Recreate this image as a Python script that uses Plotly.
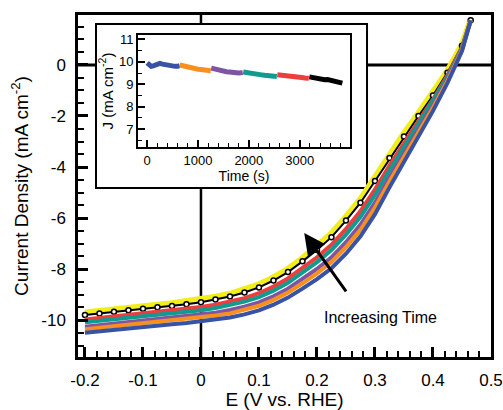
import plotly.graph_objects as go

# LSV sweeps (E in V vs RHE, J in mA cm-2)
E = [-0.2, -0.175, -0.15, -0.125, -0.1, -0.075, -0.05, -0.025, 0, 0.025, 0.05, 0.075,
     0.1, 0.125, 0.15, 0.175, 0.2, 0.225, 0.25, 0.275, 0.3, 0.325, 0.35, 0.375, 0.4,
     0.425, 0.45, 0.465]
J_yellow = [-9.7, -9.63, -9.59, -9.52, -9.45, -9.4, -9.34, -9.27, -9.18, -9.09, -8.97, -8.8,
            -8.6, -8.33, -7.99, -7.57, -7.1, -6.6, -5.95, -5.25, -4.4, -3.5, -2.67, -1.88,
            -1.1, -0.22, 0.8, 1.78]
J_black = [-9.8, -9.74, -9.68, -9.62, -9.56, -9.5, -9.45, -9.38, -9.3, -9.2, -9.08, -8.92,
           -8.72, -8.45, -8.12, -7.7, -7.25, -6.75, -6.1, -5.4, -4.55, -3.65, -2.8, -2.0,
           -1.2, -0.3, 0.75, 1.75]
J_red = [-9.98, -9.92, -9.85, -9.8, -9.73, -9.68, -9.63, -9.57, -9.49, -9.4, -9.28, -9.14,
         -8.95, -8.69, -8.37, -7.97, -7.54, -7.05, -6.43, -5.73, -4.88, -3.94, -3.05, -2.2,
         -1.35, -0.4, 0.7, 1.75]
J_teal = [-10.09, -10.03, -9.97, -9.91, -9.85, -9.8, -9.75, -9.69, -9.62, -9.53, -9.42, -9.28,
          -9.1, -8.85, -8.54, -8.15, -7.73, -7.26, -6.65, -5.95, -5.1, -4.13, -3.22, -2.34,
          -1.45, -0.47, 0.67, 1.75]
J_purple = [-10.26, -10.2, -10.14, -10.08, -10.02, -9.97, -9.92, -9.86, -9.79, -9.71, -9.61,
            -9.48, -9.31, -9.07, -8.77, -8.4, -8.0, -7.54, -6.95, -6.26, -5.4, -4.4, -3.45,
            -2.52, -1.59, -0.56, 0.62, 1.75]
J_orange = [-10.36, -10.3, -10.24, -10.18, -10.12, -10.08, -10.03, -9.97, -9.9, -9.82, -9.74,
            -9.61, -9.44, -9.21, -8.92, -8.56, -8.17, -7.73, -7.14, -6.46, -5.59, -4.57, -3.6,
            -2.64, -1.68, -0.62, 0.59, 1.75]
J_blue = [-10.5, -10.44, -10.38, -10.32, -10.26, -10.22, -10.17, -10.12, -10.05, -9.98, -9.9,
          -9.78, -9.62, -9.4, -9.12, -8.77, -8.4, -7.97, -7.4, -6.72, -5.85, -4.8, -3.8, -2.8,
          -1.8, -0.7, 0.55, 1.75]

# chronoamperometry segments for the inset
t_blue = [0, 40, 80, 120, 160, 200, 250, 300, 350, 400, 450, 500, 550, 600, 640]
ca_blue = [9.96, 9.85, 9.8, 9.82, 9.86, 9.9, 9.93, 9.9, 9.87, 9.85, 9.84, 9.82, 9.8, 9.8, 9.83]
t_orange = [640, 700, 760, 820, 880, 940, 1000, 1060, 1120, 1180, 1250]
ca_orange = [9.86, 9.82, 9.78, 9.74, 9.71, 9.7, 9.67, 9.66, 9.64, 9.62, 9.6]
t_purple = [1260, 1320, 1380, 1440, 1500, 1560, 1620, 1680, 1740, 1800, 1880]
ca_purple = [9.72, 9.68, 9.64, 9.6, 9.58, 9.56, 9.55, 9.53, 9.52, 9.5, 9.52]
t_teal = [1890, 1950, 2010, 2070, 2130, 2190, 2250, 2310, 2370, 2430, 2490, 2550]
ca_teal = [9.55, 9.52, 9.5, 9.47, 9.45, 9.44, 9.42, 9.4, 9.39, 9.37, 9.36, 9.35]
t_red = [2560, 2620, 2680, 2740, 2800, 2860, 2920, 2980, 3040, 3100, 3180]
ca_red = [9.43, 9.42, 9.4, 9.38, 9.36, 9.34, 9.33, 9.31, 9.3, 9.28, 9.27]
t_black = [3190, 3250, 3310, 3370, 3430, 3490, 3550, 3610, 3670, 3730, 3790, 3840]
ca_black = [9.33, 9.3, 9.28, 9.25, 9.22, 9.2, 9.21, 9.17, 9.16, 9.14, 9.1, 9.05]

x_ticks = [-0.2, -0.1, 0, 0.1, 0.2, 0.3, 0.4, 0.5]
x_labels = ["-0.2", "-0.1", "0", "0.1", "0.2", "0.3", "0.4", "0.5"]
y_ticks = [0, -2, -4, -6, -8, -10]
y_labels = ["0", "-2", "-4", "-6", "-8", "-10"]

BLUE = "#3953a4"
ORANGE = "#f7901e"
PURPLE = "#7d55a3"
TEAL = "#0f9b8e"
RED = "#ee3d3d"
YELLOW = "#f2ee1a"
FONT = "Liberation Sans, Arial, Helvetica, sans-serif"

fig = go.Figure()

# main sweeps, yellow drawn first as the halo behind the rest
fig.add_trace(go.Scatter(x=E, y=J_yellow, mode="lines", line=dict(color=YELLOW, width=6)))
fig.add_trace(go.Scatter(x=E, y=J_black, mode="lines+markers", line=dict(color="black", width=2),
                         marker=dict(symbol="circle", size=5, color="white",
                                     line=dict(color="black", width=1.5))))
for jj, col in [(J_red, RED), (J_teal, TEAL), (J_purple, PURPLE), (J_orange, ORANGE), (J_blue, BLUE)]:
    fig.add_trace(go.Scatter(x=E, y=jj, mode="lines", line=dict(color=col, width=4)))

# inset
for tt, jj, col in [(t_blue, ca_blue, BLUE), (t_orange, ca_orange, ORANGE), (t_purple, ca_purple, PURPLE),
                    (t_teal, ca_teal, TEAL), (t_red, ca_red, RED), (t_black, ca_black, "black")]:
    fig.add_trace(go.Scatter(x=tt, y=jj, mode="lines", line=dict(color=col, width=5),
                             xaxis="x2", yaxis="y2"))

# zero lines + white box behind the inset
fig.add_shape(type="line", xref="x", yref="paper", x0=0, x1=0, y0=0, y1=1,
              line=dict(color="black", width=2.5), layer="below")
fig.add_shape(type="line", xref="paper", yref="y", x0=0, x1=1, y0=0, y1=0,
              line=dict(color="black", width=3), layer="below")
fig.add_shape(type="rect", xref="paper", yref="paper", x0=0.0436, x1=0.6998, y0=0.494, y1=0.9737,
              fillcolor="white", line=dict(color="black", width=2), layer="below")

# arrow + label
fig.add_annotation(x=0.178, y=-6.59, ax=0.252, ay=-8.94, xref="x", yref="y", axref="x", ayref="y",
                   showarrow=True, arrowhead=2, arrowsize=1.4, arrowwidth=3, arrowcolor="black", text="")
fig.add_annotation(x=0.309, y=-9.92, text="Increasing Time", showarrow=False,
                   font=dict(size=16, color="black", family=FONT))

fig.update_layout(
    width=503, height=410,
    margin=dict(l=78, r=12, t=15, b=53, autoexpand=False),
    paper_bgcolor="white", plot_bgcolor="rgba(0,0,0,0)",
    showlegend=False,
    font=dict(family=FONT, color="black"),
    xaxis=dict(range=[-0.212, 0.5], tickvals=x_ticks, ticktext=x_labels,
               ticks="inside", ticklen=10, tickwidth=2.5, tickcolor="black",
               minor=dict(dtick=0.02, ticks="inside", ticklen=6, tickwidth=2, tickcolor="black"),
               showline=True, linewidth=2.5, linecolor="black", mirror=True,
               showgrid=False, zeroline=False, tickfont=dict(size=17), ticklabelstandoff=6,
               title=dict(text="E (V vs. RHE)", font=dict(size=19), standoff=6)),
    yaxis=dict(range=[-11.45, 1.96], tickvals=y_ticks, ticktext=y_labels,
               ticks="inside", ticklen=10, tickwidth=2.5, tickcolor="black",
               minor=dict(dtick=0.5, ticks="inside", ticklen=6, tickwidth=2, tickcolor="black"),
               showline=True, linewidth=2.5, linecolor="black", mirror=True,
               showgrid=False, zeroline=False, tickfont=dict(size=17), ticklabelstandoff=6,
               title=dict(text="Current Density (mA cm<sup>-2</sup>)", font=dict(size=19), standoff=8)),
    xaxis2=dict(domain=[0.1453, 0.6586], anchor="y2", range=[-180, 3990],
                tickvals=[0, 1000, 2000, 3000, 4000],
                ticks="inside", ticklen=7, tickwidth=1.5, tickcolor="black",
                minor=dict(dtick=200, ticks="inside", ticklen=4, tickwidth=1.2, tickcolor="black"),
                showline=True, linewidth=2, linecolor="black", mirror=True,
                showgrid=False, zeroline=False, tickfont=dict(size=13),
                title=dict(text="Time (s)", font=dict(size=14), standoff=2)),
    yaxis2=dict(domain=[0.614, 0.9415], anchor="x2", range=[6.2, 11.2],
                tickvals=[7, 8, 9, 10, 11],
                ticks="inside", ticklen=7, tickwidth=1.5, tickcolor="black",
                minor=dict(dtick=0.5, ticks="inside", ticklen=4, tickwidth=1.2, tickcolor="black"),
                showline=True, linewidth=2, linecolor="black", mirror=True,
                showgrid=False, zeroline=False, tickfont=dict(size=13),
                title=dict(text="J (mA cm<sup>-2</sup>)", font=dict(size=15), standoff=2)),
)

# the page body has a default 8px margin; drop it so the 503x410 figure fills the window
fig.write_html("out.html", config={"displayModeBar": False},
               post_script="document.body.style.margin='0';document.body.style.overflow='hidden';")
